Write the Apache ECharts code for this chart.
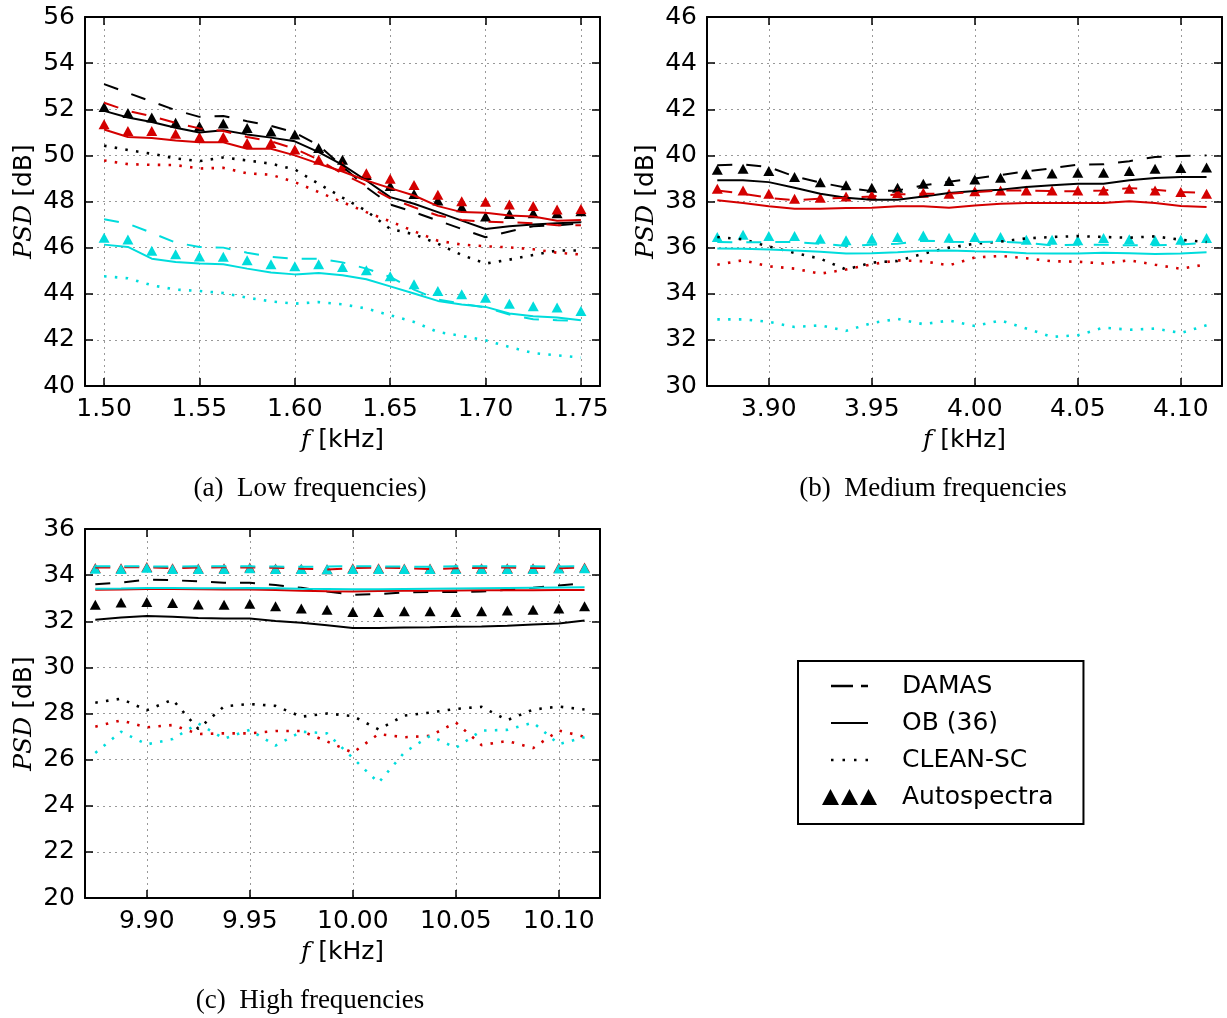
<!DOCTYPE html>
<html><head><meta charset="utf-8">
<script src="https://cdn.jsdelivr.net/npm/echarts@6/dist/echarts.min.js"></script>
<style>html,body{margin:0;padding:0;background:#fff}#c{width:1227px;height:1018px}</style>
</head><body><div id="c"></div>
<script>
// ---------- frequencies (kHz) ----------
const freqA = [1.5000,1.5125,1.5250,1.5375,1.5500,1.5625,1.5750,1.5875,1.6000,1.6125,1.6250,1.6375,1.6500,1.6625,1.6750,1.6875,1.7000,1.7125,1.7250,1.7375,1.7500];
const freqB = [3.8750,3.8875,3.9000,3.9125,3.9250,3.9375,3.9500,3.9625,3.9750,3.9875,4.0000,4.0125,4.0250,4.0375,4.0500,4.0625,4.0750,4.0875,4.1000,4.1125];
const freqC = [9.8750,9.8875,9.9000,9.9125,9.9250,9.9375,9.9500,9.9625,9.9750,9.9875,10.0000,10.0125,10.0250,10.0375,10.0500,10.0625,10.0750,10.0875,10.1000,10.1125];
// ---------- tick labels ----------
const xTicksA = [1.50,1.55,1.60,1.65,1.70,1.75];
const xTicksB = [3.90,3.95,4.00,4.05,4.10];
const xTicksC = [9.90,9.95,10.00,10.05,10.10];
// ---------- legend / method names ----------
const methods = ['DAMAS','OB (36)','CLEAN-SC','Autospectra'];
const captions = ['(a)  Low frequencies)','(b)  Medium frequencies','(c)  High frequencies'];
// ---------- (a) low frequencies, PSD [dB] ----------
const aBlackDamas = [53.09,52.71,52.33,51.96,51.67,51.71,51.48,51.28,50.99,50.43,49.52,48.62,47.87,47.54,47.17,46.81,46.45,46.70,46.93,46.96,47.06];
const aBlackOB    = [51.93,51.64,51.45,51.20,50.99,51.09,50.91,50.77,50.61,50.14,49.59,48.91,48.19,47.90,47.54,47.17,46.81,46.93,47.00,47.06,47.10];
const aBlackClean = [50.42,50.23,50.07,49.87,49.75,49.91,49.78,49.64,49.39,48.77,48.17,47.59,46.81,46.58,46.17,45.68,45.31,45.48,45.68,45.87,45.88];
const aBlackAuto  = [52.10,51.84,51.64,51.41,51.26,51.38,51.19,51.04,50.91,50.32,49.81,49.15,48.67,48.33,48.04,47.75,47.35,47.46,47.49,47.49,47.58];
const aRedDamas   = [52.28,51.93,51.70,51.41,51.17,51.06,50.80,50.61,50.29,49.81,49.20,48.70,48.14,47.75,47.39,47.20,47.12,47.10,47.06,46.97,46.97];
const aRedOB      = [51.12,50.80,50.75,50.65,50.57,50.57,50.29,50.29,50.00,49.64,49.30,48.91,48.58,48.26,47.80,47.54,47.51,47.39,47.35,47.17,47.20];
const aRedClean   = [49.78,49.62,49.59,49.58,49.43,49.46,49.22,49.16,48.84,48.41,47.97,47.54,47.14,46.71,46.30,46.13,46.06,46.01,45.93,45.78,45.70];
const aRedAuto    = [51.35,51.06,51.06,50.94,50.80,50.80,50.54,50.54,50.25,49.81,49.52,49.23,48.99,48.72,48.29,48.01,47.99,47.87,47.81,47.65,47.68];
const aCyanDamas  = [47.23,47.04,46.64,46.22,46.03,46.00,45.78,45.60,45.52,45.52,45.36,45.09,44.73,44.18,43.75,43.57,43.40,43.10,42.89,42.85,42.82];
const aCyanOB     = [46.13,46.03,45.52,45.38,45.31,45.28,45.09,44.92,44.84,44.90,44.80,44.63,44.32,44.01,43.69,43.53,43.43,43.14,43.02,42.97,42.85];
const aCyanClean  = [44.76,44.67,44.37,44.18,44.12,44.03,43.83,43.67,43.57,43.64,43.54,43.36,43.07,42.78,42.34,42.17,41.98,41.69,41.43,41.33,41.23];
const aCyanAuto   = [46.43,46.35,45.86,45.71,45.62,45.60,45.45,45.28,45.19,45.28,45.16,45.02,44.76,44.41,44.12,43.98,43.83,43.57,43.46,43.40,43.25];
// ---------- (b) medium frequencies ----------
const bBlackDamas = [39.57,39.61,39.49,39.09,38.82,38.60,38.45,38.48,38.70,38.86,39.00,39.15,39.31,39.44,39.60,39.61,39.75,39.93,39.97,40.00];
const bBlackOB    = [38.92,38.92,38.84,38.60,38.34,38.16,38.08,38.08,38.22,38.37,38.45,38.51,38.63,38.70,38.77,38.77,38.92,39.02,39.06,39.06];
const bBlackClean = [36.46,36.36,36.05,35.77,35.52,35.05,35.35,35.42,35.74,36.00,36.17,36.26,36.40,36.46,36.50,36.46,36.43,36.49,36.34,36.24];
const bBlackAuto  = [39.38,39.42,39.32,39.06,38.84,38.70,38.60,38.60,38.77,38.89,38.95,39.03,39.18,39.21,39.25,39.25,39.32,39.42,39.45,39.47];
const bRedDamas   = [38.48,38.34,38.16,38.05,38.12,38.16,38.22,38.31,38.34,38.34,38.41,38.48,38.48,38.45,38.44,38.48,38.58,38.51,38.41,38.38];
const bRedOB      = [38.05,37.93,37.79,37.69,37.69,37.72,37.73,37.79,37.79,37.73,37.83,37.90,37.93,37.93,37.93,37.93,38.01,37.93,37.80,37.76];
const bRedClean   = [35.26,35.45,35.19,35.09,34.87,35.05,35.28,35.45,35.41,35.23,35.57,35.64,35.54,35.41,35.39,35.31,35.45,35.26,35.08,35.28];
const bRedAuto    = [38.55,38.48,38.34,38.12,38.16,38.22,38.27,38.37,38.38,38.34,38.44,38.48,38.48,38.48,38.48,38.48,38.55,38.48,38.41,38.34];
const bCyanDamas  = [36.24,36.23,36.24,36.24,36.17,36.07,36.13,36.17,36.30,36.26,36.24,36.26,36.20,36.10,36.13,36.13,36.10,36.10,36.14,36.20];
const bCyanOB     = [35.96,35.95,35.92,35.88,35.82,35.74,35.76,35.80,35.86,35.87,35.84,35.82,35.76,35.74,35.75,35.78,35.76,35.72,35.75,35.80];
const bCyanClean  = [32.89,32.89,32.78,32.56,32.63,32.39,32.73,32.91,32.68,32.84,32.60,32.84,32.49,32.13,32.20,32.53,32.44,32.49,32.30,32.63];
const bCyanAuto   = [36.46,36.56,36.50,36.50,36.39,36.32,36.39,36.46,36.53,36.43,36.46,36.46,36.34,36.34,36.32,36.42,36.36,36.32,36.34,36.42];
// ---------- (c) high frequencies ----------
const cBlackDamas = [33.60,33.68,33.80,33.78,33.73,33.67,33.67,33.57,33.45,33.29,33.15,33.18,33.25,33.27,33.27,33.29,33.37,33.45,33.55,33.65];
const cBlackOB    = [32.07,32.16,32.23,32.19,32.14,32.12,32.12,32.01,31.93,31.83,31.71,31.71,31.73,31.74,31.76,31.77,31.81,31.86,31.90,32.03];
const cBlackClean = [28.47,28.64,28.14,28.60,27.33,28.31,28.41,28.33,27.86,28.00,27.89,27.31,27.91,28.04,28.20,28.29,27.71,28.17,28.30,28.17];
const cBlackAuto  = [32.72,32.81,32.83,32.79,32.73,32.72,32.76,32.65,32.55,32.50,32.40,32.40,32.43,32.43,32.40,32.43,32.47,32.50,32.55,32.65];
const cRedDamas   = [34.33,34.34,34.34,34.30,34.33,34.34,34.33,34.32,34.28,34.24,34.31,34.33,34.30,34.26,34.30,34.32,34.33,34.31,34.30,34.34];
const cRedOB      = [33.37,33.38,33.40,33.40,33.39,33.38,33.38,33.35,33.32,33.30,33.29,33.31,33.32,33.32,33.33,33.34,33.34,33.34,33.35,33.35];
const cRedClean   = [27.43,27.70,27.40,27.50,27.11,27.14,27.14,27.24,27.24,26.79,26.30,27.11,26.97,27.03,27.61,26.63,26.81,26.50,27.26,26.99];
const cRedAuto    = [34.31,34.30,34.35,34.30,34.29,34.30,34.33,34.29,34.28,34.26,34.30,34.30,34.29,34.29,34.30,34.30,34.30,34.30,34.32,34.33];
const cCyanDamas  = [34.38,34.39,34.38,34.37,34.39,34.38,34.38,34.37,34.36,34.37,34.39,34.38,34.37,34.36,34.38,34.38,34.39,34.38,34.37,34.40];
const cCyanOB     = [33.41,33.42,33.44,33.44,33.43,33.43,33.44,33.43,33.41,33.40,33.39,33.39,33.40,33.41,33.42,33.43,33.44,33.45,33.46,33.47];
const cCyanClean  = [26.29,27.21,26.66,26.89,27.57,26.91,27.29,26.61,27.21,27.14,26.07,25.00,26.31,27.03,26.51,27.26,27.29,27.61,26.67,26.97];
const cCyanAuto   = [34.28,34.27,34.32,34.27,34.27,34.27,34.30,34.27,34.27,34.25,34.27,34.27,34.27,34.27,34.27,34.27,34.27,34.27,34.29,34.30];

// ---------- styling ----------
const SANS = 'DejaVu Sans';
const SERIF = 'Liberation Serif';
const BLACK = '#000000', RED = '#d40000', CYAN = '#00dcdc';
const GRIDS = [
  {left: 85, top: 17, width: 515, height: 369},
  {left: 707, top: 17, width: 515, height: 369},
  {left: 85, top: 529, width: 515, height: 369}
];
const XR = [[1.49, 1.76], [3.87, 4.12], [9.87, 10.12]];
const YR = [[40, 56], [30, 46], [20, 36]];
const XT = [xTicksA, xTicksB, xTicksC];

const axisLineS = {show: true, onZero: false, lineStyle: {color: '#000', width: 2}};
const tickS = {show: true, inside: true, length: 8, lineStyle: {color: '#000', width: 1.5}};
const gridLineS = {show: true, lineStyle: {color: '#999999', width: 1, type: [2, 4]}};
const labelFont = {fontSize: 25, fontFamily: SANS, color: '#000'};
const nameRich = {i: {fontFamily: 'DejaVu Serif', fontStyle: 'italic', fontSize: 25, color: '#000'}};

const xAxis = [], yAxis = [];
for (let g = 0; g < 3; g++) {
  xAxis.push({
    type: 'value', gridIndex: g, min: XR[g][0], max: XR[g][1], position: 'bottom',
    axisLine: axisLineS,
    axisTick: Object.assign({customValues: XT[g]}, tickS),
    axisLabel: Object.assign({customValues: XT[g], margin: 11,
      formatter: v => Number(v).toFixed(2)}, labelFont),
    splitLine: gridLineS,
    name: '{i|f} [kHz]', nameLocation: 'middle', nameGap: 42,
    nameTextStyle: {fontSize: 25, fontFamily: SANS, color: '#000', rich: nameRich}
  });
  xAxis.push({
    type: 'value', gridIndex: g, min: XR[g][0], max: XR[g][1], position: 'top',
    axisLine: axisLineS,
    axisTick: Object.assign({customValues: XT[g]}, tickS),
    axisLabel: {show: false}, splitLine: {show: false}
  });
  yAxis.push({
    type: 'value', gridIndex: g, min: YR[g][0], max: YR[g][1], interval: 2, position: 'left',
    axisLine: axisLineS, axisTick: tickS,
    axisLabel: Object.assign({margin: 10}, labelFont),
    splitLine: gridLineS,
    name: '{i|PSD} [dB]', nameLocation: 'middle', nameGap: 48, nameRotate: 90,
    nameTextStyle: {fontSize: 25, fontFamily: SANS, color: '#000', rich: nameRich}
  });
  yAxis.push({
    type: 'value', gridIndex: g, min: YR[g][0], max: YR[g][1], interval: 2, position: 'right',
    axisLine: axisLineS, axisTick: tickS, axisLabel: {show: false}, splitLine: {show: false}
  });
}

function pairs(xs, ys) { return xs.map((x, i) => [x, ys[i]]); }
function mk(g, kind, color, xs, ys) {
  const base = {name: kind + '-' + g + '-' + color, xAxisIndex: g * 2, yAxisIndex: g * 2,
    data: pairs(xs, ys), silent: true, animation: false};
  if (kind === 'tri') {
    return Object.assign(base, {type: 'scatter', symbol: 'triangle', symbolSize: [11, 10],
      itemStyle: {color: color, opacity: 1}});
  }
  const ls = {color: color, width: 2, type: 'solid', cap: 'butt'};
  if (kind === 'dash') ls.type = [15, 14];
  if (kind === 'dot') { ls.type = [2.5, 8.3]; ls.width = 2.6; }
  return Object.assign(base, {type: 'line', symbol: 'none', lineStyle: ls});
}
function block(g, xs, sets) {
  const cols = [BLACK, RED, CYAN];
  const kinds = ['dash', 'solid', 'dot', 'tri'];
  const out = [];
  sets.forEach((s, ci) => s.forEach((ys, k) => out.push(mk(g, kinds[k], cols[ci], xs, ys))));
  return out;
}

const series = [];
// legend carriers (no data)
methods.forEach(m => series.push({name: m, type: 'line', xAxisIndex: 0, yAxisIndex: 0, data: [],
  itemStyle: {color: '#000'}, lineStyle: {color: '#000'}}));
series.push(...block(0, freqA, [
  [aBlackDamas, aBlackOB, aBlackClean, aBlackAuto],
  [aRedDamas, aRedOB, aRedClean, aRedAuto],
  [aCyanDamas, aCyanOB, aCyanClean, aCyanAuto]]));
series.push(...block(1, freqB, [
  [bBlackDamas, bBlackOB, bBlackClean, bBlackAuto],
  [bRedDamas, bRedOB, bRedClean, bRedAuto],
  [bCyanDamas, bCyanOB, bCyanClean, bCyanAuto]]));
series.push(...block(2, freqC, [
  [cBlackDamas, cBlackOB, cBlackClean, cBlackAuto],
  [cRedDamas, cRedOB, cRedClean, cRedAuto],
  [cCyanDamas, cCyanOB, cCyanClean, cCyanAuto]]));

const ICONS = [
  'path://M0,0h0.1v0.1h-0.1zM0,6.8h22v2.4h-22zM30,6.8h7v2.4h-7zM36.9,15.9h0.1v0.1h-0.1z',
  'path://M0,0h0.1v0.1h-0.1zM0,6.9h37v2.2h-37zM36.9,15.9h0.1v0.1h-0.1z',
  'path://M0,0h0.1v0.1h-0.1zM0,6.75h2.5v2.5h-2.5zM11.5,6.75h2.5v2.5h-2.5zM23,6.75h2.5v2.5h-2.5zM34.5,6.75h2.5v2.5h-2.5zM36.9,15.9h0.1v0.1h-0.1z',
  'path://M0,16L8.5,0L17,16ZM19,16L27.5,0L36,16ZM38,16L46.5,0L55,16Z'
];

const capStyle = {fontSize: 27, fontFamily: SERIF, fontWeight: 'normal', color: '#000'};
const option = {
  backgroundColor: '#fff',
  animation: false,
  grid: GRIDS.map(g => Object.assign({containLabel: false}, g)),
  xAxis: xAxis,
  yAxis: yAxis,
  series: series,
  legend: {
    orient: 'vertical', left: 798, top: 661,
    padding: [10, 30, 12, 24], itemGap: 7, itemWidth: 55, itemHeight: 16,
    borderColor: '#000', borderWidth: 2, borderRadius: 0, backgroundColor: '#fff',
    selectedMode: false,
    textStyle: {fontSize: 25, fontFamily: SANS, color: '#000', lineHeight: 30, padding: [0, 0, 0, 20]},
    data: methods.map((m, i) => ({name: m, icon: ICONS[i], itemStyle: {color: '#000'}}))
  },
  title: [
    {text: captions[0], left: 305, top: 470, textAlign: 'center', textStyle: capStyle},
    {text: captions[1], left: 928, top: 470, textAlign: 'center', textStyle: capStyle},
    {text: captions[2], left: 305, top: 982, textAlign: 'center', textStyle: capStyle}
  ]
};
const chart = echarts.init(document.getElementById('c'), null, {renderer: 'canvas'});
chart.setOption(option);
</script>
</body></html>
